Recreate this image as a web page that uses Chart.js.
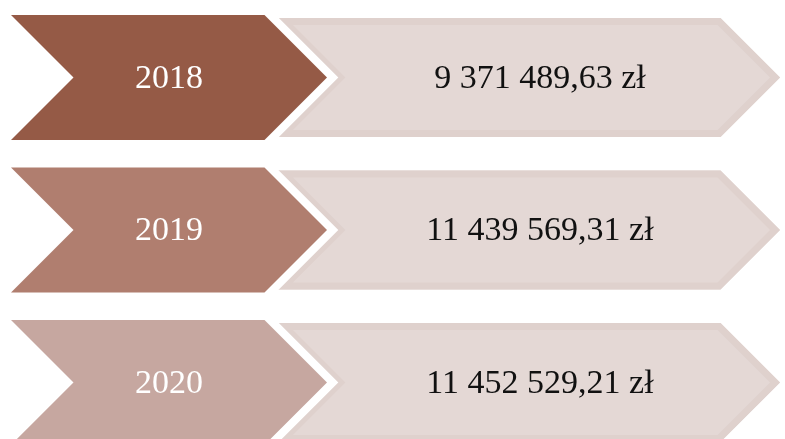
<!DOCTYPE html>
<html>
<head>
<meta charset="utf-8">
<script src="https://cdn.jsdelivr.net/npm/chart.js@4/dist/chart.umd.min.js"></script>
<style>
  body { margin: 0; background: #ffffff; }
  #wrap { width: 785px; height: 439px; }
</style>
</head>
<body>
<div id="wrap"><canvas id="chart"></canvas></div>
<script>
// data
const years = ['2018', '2019', '2020'];
const amounts = [9371489.63, 11439569.31, 11452529.21];

// layout (x in page pixels, the x scale runs 0..785)
const YEAR_SPAN = [11, 327];
const VALUE_SPAN = [276, 780];
const yearColors = ['#955a46', '#b07e6f', '#c6a7a0'];

// 9 371 489,63 zł
function formatPln(v) {
    const parts = v.toFixed(2).split('.');
    return parts[0].replace(/\B(?=(\d{3})+(?!\d))/g, ' ') + ',' + parts[1] + ' zł';
}

function chevronPath(ctx, left, right, top, bottom, notched) {
    const mid = (top + bottom) / 2;
    const d = (bottom - top) / 2;
    ctx.beginPath();
    ctx.moveTo(left, top);
    ctx.lineTo(right - d, top);
    ctx.lineTo(right, mid);
    ctx.lineTo(right - d, bottom);
    ctx.lineTo(left, bottom);
    if (notched) ctx.lineTo(left + d, mid);
    ctx.closePath();
}

const shapesPlugin = {
    id: 'shapes',
    beforeDatasetDraw() {
        return false; // bars are drawn by afterDatasetsDraw as chevrons
    },
    afterDatasetsDraw(chart) {
        const ctx = chart.ctx;
        const values = chart.getDatasetMeta(0).data;
        const chevs = chart.getDatasetMeta(1).data;
        ctx.save();
        ctx.lineJoin = 'miter';

        // value boxes
        values.forEach((el) => {
            const p = el.getProps(['x', 'base', 'y', 'height'], true);
            const l = Math.min(p.x, p.base), r = Math.max(p.x, p.base);
            const t = p.y - p.height / 2, b = p.y + p.height / 2;
            chevronPath(ctx, l, r, t, b, true);
            ctx.fillStyle = '#e4d8d5';
            ctx.fill();
            ctx.save();
            ctx.clip();
            ctx.lineWidth = 14;
            ctx.strokeStyle = '#dfd1cd';
            ctx.stroke();
            ctx.restore();
        });

        // year chevrons with white outline
        chevs.forEach((el, i) => {
            const p = el.getProps(['x', 'base', 'y', 'height'], true);
            const l = Math.min(p.x, p.base), r = Math.max(p.x, p.base);
            const t = p.y - p.height / 2, b = p.y + p.height / 2;
            chevronPath(ctx, l, r, t, b, true);
            ctx.lineWidth = 16;
            ctx.strokeStyle = '#ffffff';
            ctx.stroke();
            ctx.fillStyle = yearColors[i];
            ctx.fill();
        });

        // labels
        ctx.font = '34px "Liberation Serif", serif';
        ctx.textAlign = 'center';
        ctx.textBaseline = 'alphabetic';
        chevs.forEach((el, i) => {
            const p = el.getProps(['x', 'base', 'y'], true);
            ctx.fillStyle = '#ffffff';
            ctx.fillText(years[i], (p.x + p.base) / 2, p.y + 10.5);
        });
        values.forEach((el, i) => {
            const p = el.getProps(['x', 'base', 'y'], true);
            ctx.fillStyle = '#111111';
            ctx.fillText(formatPln(amounts[i]), (p.x + p.base) / 2 + 12, p.y + 10.5);
        });
        ctx.restore();
    }
};

const ctx = document.getElementById('chart').getContext('2d');
const chart = new Chart(ctx, {
    type: 'bar',
    data: {
        labels: years,
        datasets: [
            {
                label: 'amount',
                data: years.map((_, i) => ({ x: VALUE_SPAN, y: i })),
                barThickness: 119,
                grouped: false,
                backgroundColor: '#e4d8d5',
            },
            {
                label: 'year',
                data: years.map((_, i) => ({ x: YEAR_SPAN, y: i })),
                barThickness: 125,
                grouped: false,
                backgroundColor: yearColors,
            },
        ],
    },
    options: {
        indexAxis: 'y',
        responsive: true,
        maintainAspectRatio: false,
        animation: false,
        layout: { padding: 0 },
        scales: {
            x: { type: 'linear', min: 0, max: 785, offset: false, display: false },
            y: { type: 'linear', min: -0.508, max: 2.371, reverse: true, offset: false, display: false },
        },
        plugins: {
            legend: { display: false },
            tooltip: { enabled: false },
        },
    },
    plugins: [shapesPlugin],
});
</script>
</body>
</html>
